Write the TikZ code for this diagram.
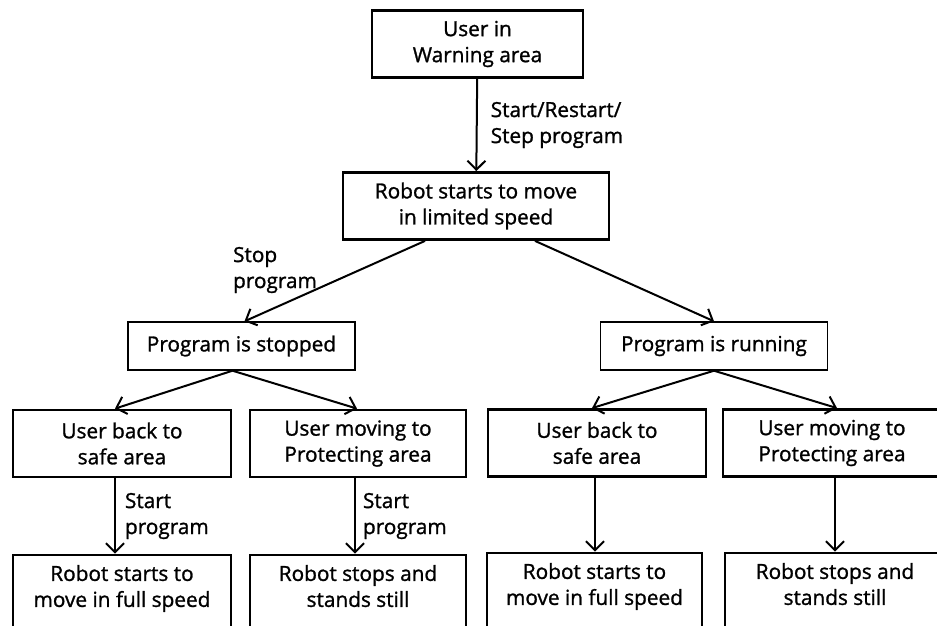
\documentclass[tikz,border=0pt]{standalone}
\usepackage{fontspec}
\setmainfont{Open Sans}[FakeBold=1.2]
\usetikzlibrary{arrows.meta}

\begin{document}
\begin{tikzpicture}[x=1pt,y=-1pt,>={Straight Barb[length=9pt,width=18pt,line width=2pt]},
  font=\fontsize{20.8}{26}\selectfont,
  state/.style={draw,line width=2.8pt,align=center,minimum height=67pt,inner sep=0pt},
  cut/.style={state,minimum height=84pt,text depth=22pt},
  mode/.style={draw,line width=1.4pt,align=center,minimum width=227pt,minimum height=48pt,inner sep=0pt},
  flow/.style={->,line width=2pt},
  lbl/.style={align=left,inner sep=0pt}]
\useasboundingbox (0,0) rectangle (937,625);
\clip (0,0) rectangle (937,625);
\node[state,minimum width=211pt] (warn) at (477.5,44) {User in\\Warning area};
\node[state,minimum width=266pt] (lim) at (476,206) {Robot starts to move\\in limited speed};
\node[mode] (stopped) at (241.5,346) {Program is stopped};
\node[mode] (running) at (714,346) {Program is running};
\node[state,minimum width=218pt] (back1) at (122,443.5) {User back to\\safe area};
\node[state,minimum width=216pt] (prot1) at (358,443.5) {User moving to\\Protecting area};
\node[state,minimum width=218pt] (back2) at (597,443) {User back to\\safe area};
\node[state,minimum width=218pt] (prot2) at (832,443) {User moving to\\Protecting area};
\node[cut,minimum width=218pt] (full1) at (122,597) {Robot starts to\\move in full speed};
\node[cut,minimum width=216pt] (still1) at (358,597) {Robot stops and\\stands still};
\node[cut,minimum width=215pt] (full2) at (594.5,595) {Robot starts to\\move in full speed};
\node[cut,minimum width=220pt] (still2) at (835,595) {Robot stops and\\stands still};
% connectors
\draw[flow] (warn) -- node[lbl,right=13pt]{Start/Restart/\\Step program} (lim);
\draw[flow] ([xshift=-51pt]lim.south) -- ([xshift=3pt]stopped.north);
\node[lbl] (stoplbl) at (275,270) {Stop\\program};
\draw[flow] ([xshift=59pt]lim.south) -- (running.north);
\draw[flow] ([xshift=-9pt]stopped.south) -- ([xshift=-7pt]back1.north);
\draw[flow] ([xshift=-9pt]stopped.south) -- ([xshift=-1pt]prot1.north);
\draw[flow] (running.south) -- ([xshift=-5pt]back2.north);
\draw[flow] (running.south) -- ([xshift=5pt]prot2.north);
\draw[flow] ([xshift=-7pt]back1.south) -- node[lbl,right=9pt]{Start\\program} ([xshift=-7pt]full1.north);
\draw[flow] ([xshift=-3pt]prot1.south) -- node[lbl,right=7pt]{Start\\program} ([xshift=-3pt]still1.north);
\draw[flow] ([xshift=-2pt]back2.south) -- ([xshift=-2pt]back2.south |- full2.north);
\draw[flow] ([xshift=3pt]prot2.south) -- ([xshift=3pt]prot2.south |- still2.north);
\end{tikzpicture}
\end{document}
